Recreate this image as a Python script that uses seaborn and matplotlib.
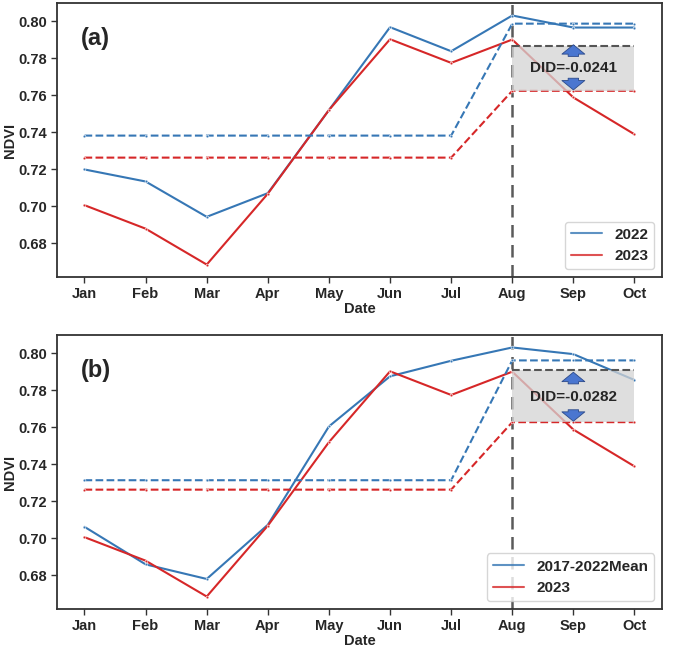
import numpy as np
import pandas as pd
import matplotlib
matplotlib.use("Agg")
import matplotlib.pyplot as plt
import seaborn as sns

# Data
months = ["Jan", "Feb", "Mar", "Apr", "May", "Jun", "Jul", "Aug", "Sep", "Oct"]

ndvi_2023 = [0.7006, 0.6879, 0.6685, 0.7068, 0.7520, 0.7903, 0.7775, 0.7901, 0.7588, 0.7389]

# panel (a): 2022 vs 2023
ndvi_2022 = [0.7199, 0.7134, 0.6943, 0.7071, 0.7520, 0.7968, 0.7838, 0.8031, 0.7966, 0.7966]
mean_2022 = [0.7382] * 7 + [0.7987] * 3
mean_2023_a = [0.7263] * 7 + [0.7624] * 3
counterfactual_a = 0.7865
did_a = "DID=-0.0241"

# panel (b): 2017-2022 mean vs 2023
ndvi_mean = [0.7062, 0.6859, 0.6780, 0.7073, 0.7605, 0.7876, 0.7960, 0.8032, 0.7996, 0.7856]
mean_hist = [0.7314] * 7 + [0.7962] * 3
mean_2023_b = [0.7263] * 7 + [0.7628] * 3
counterfactual_b = 0.7910
did_b = "DID=-0.0282"

BLUE = "#3677b5"
RED = "#d62728"

sns.set_style("ticks")
plt.rcParams["font.family"] = ["Liberation Sans", "DejaVu Sans"]
plt.rcParams["font.weight"] = "bold"


def draw_panel(ax, ref_vals, ref_mean, new_mean, cf, did_text, ref_label, tag,
               up_arrow, down_arrow, text_y):
    x = np.arange(len(months))
    mk = dict(marker=".", markersize=4, markeredgecolor="white", markeredgewidth=0.4)

    # solid series
    sns.lineplot(x=x, y=ref_vals, ax=ax, color=BLUE, lw=1.5, label=ref_label, **mk)
    sns.lineplot(x=x, y=ndvi_2023, ax=ax, color=RED, lw=1.5, label="2023", **mk)
    # period means (dashed)
    sns.lineplot(x=x, y=ref_mean, ax=ax, color=BLUE, lw=1.5, linestyle="--",
                 legend=False, **mk)
    sns.lineplot(x=x, y=new_mean, ax=ax, color=RED, lw=1.5, linestyle="--",
                 legend=False, **mk)

    # treatment start
    ax.axvline(7, color="#5a5a5a", lw=1.8, linestyle=(0, (5, 3)), zorder=1)

    # DID region
    ax.fill_between([7, 9], [new_mean[-1]] * 2, [cf] * 2, color="#d4d4d4",
                    alpha=0.75, lw=0, zorder=3)
    ax.plot([7, 9], [cf, cf], color="#555555", lw=1.5, linestyle="--", zorder=4)

    arrow = dict(arrowstyle="simple,head_length=0.45,head_width=1.1,tail_width=0.5",
                 fc="#4a76d0", ec="#2c4a8a", lw=0.6, shrinkA=0, shrinkB=0)
    ax.annotate("", xy=(8, up_arrow[1]), xytext=(8, up_arrow[0]),
                arrowprops=dict(mutation_scale=15, **arrow), zorder=5)
    ax.annotate("", xy=(8, down_arrow[1]), xytext=(8, down_arrow[0]),
                arrowprops=dict(mutation_scale=15, **arrow), zorder=5)
    ax.text(8, text_y, did_text, ha="center", va="center", fontsize=11,
            fontweight="bold", zorder=6)

    ax.text(0.04, 0.87, tag, transform=ax.transAxes, ha="left", va="center",
            fontsize=17, fontweight="bold")

    ax.set_xticks(x)
    ax.set_xticklabels(months)
    ax.set_yticks([0.68, 0.70, 0.72, 0.74, 0.76, 0.78, 0.80])
    ax.set_yticklabels([f"{v:.2f}" for v in [0.68, 0.70, 0.72, 0.74, 0.76, 0.78, 0.80]])
    ax.tick_params(labelsize=10.5, length=4, width=1, color="#333333", pad=3)
    for lab in ax.get_xticklabels() + ax.get_yticklabels():
        lab.set_fontweight("bold")
    ax.set_xlabel("Date", fontsize=10.5, fontweight="bold", labelpad=1)
    ax.set_ylabel("NDVI", fontsize=10.5, fontweight="bold", labelpad=1)
    for sp in ax.spines.values():
        sp.set_visible(True)
        sp.set_color("#333333")
        sp.set_linewidth(1.3)
    leg = ax.legend(loc="lower right", frameon=True, framealpha=0.8,
                    edgecolor="#cccccc", prop={"weight": "bold", "size": 11})
    for h in leg.get_lines():
        h.set_marker("")
        h.set_alpha(0.8)


fig = plt.figure(figsize=(6.85, 6.5), dpi=100)
ax1 = fig.add_axes([0.0832, 0.5738, 0.8832, 0.4215])
ax2 = fig.add_axes([0.0832, 0.0631, 0.8832, 0.4215])

draw_panel(ax1, ndvi_2022, mean_2022, mean_2023_a, counterfactual_a, did_a, "2022", "(a)",
           up_arrow=(0.7810, 0.7873), down_arrow=(0.7692, 0.7629), text_y=0.7745)
draw_panel(ax2, ndvi_mean, mean_hist, mean_2023_b, counterfactual_b, did_b,
           "2017-2022Mean", "(b)",
           up_arrow=(0.7835, 0.7898), down_arrow=(0.7695, 0.7633), text_y=0.7766)

fig.savefig("out.png", dpi=100)
